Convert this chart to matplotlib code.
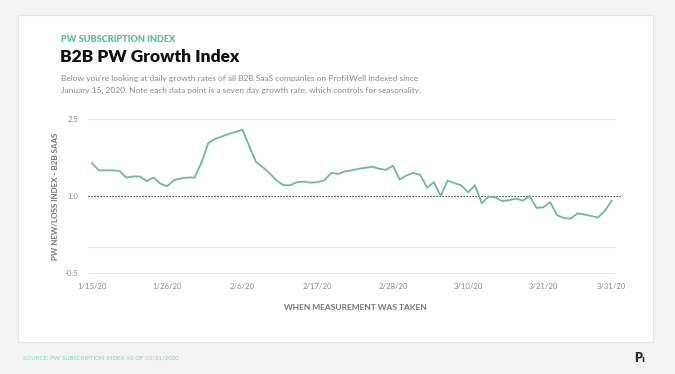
import matplotlib
matplotlib.use("Agg")
import matplotlib.pyplot as plt
from matplotlib.patches import Rectangle
import numpy as np

# ---- data ----
start_date = "2020-01-15"
values_jan = [1.64, 1.50, 1.50, 1.50, 1.49, 1.36, 1.38, 1.38, 1.29, 1.36, 1.24, 1.19,
              1.31, 1.34, 1.36, 1.36, 1.65]
values_feb = [2.03, 2.11, 2.16, 2.21, 2.25, 2.29, 1.97, 1.66, 1.56, 1.44, 1.30, 1.21,
              1.21, 1.27, 1.28, 1.26, 1.27, 1.31, 1.45, 1.43, 1.48, 1.50, 1.53, 1.55,
              1.57, 1.53, 1.51, 1.59, 1.32]
values_mar = [1.40, 1.45, 1.41, 1.16, 1.27, 1.00, 1.30, 1.25, 1.21, 1.07, 1.21, 0.86,
              0.99, 0.97, 0.90, 0.92, 0.95, 0.91, 1.00, 0.77, 0.78, 0.88, 0.63, 0.57,
              0.56, 0.66, 0.64, 0.61, 0.58, 0.71, 0.91]
x_tick_labels = ["1/15/20", "1/26/20", "2/6/20", "2/17/20", "2/28/20", "3/10/20", "3/21/20", "3/31/20"]
y_ticks = [2.5, 1.0, -0.5]
y_tick_labels = ["2.5", "1.0", "-0.5"]
grid_values = [2.5, 0.0, -0.5]
baseline = 1.0

values = values_jan + values_feb + values_mar
dates = np.arange(np.datetime64(start_date), np.datetime64(start_date) + len(values))
days = (dates - dates[0]).astype(int)
tick_dates = [np.datetime64("2020-%02d-%02d" % (int(s.split("/")[0]), int(s.split("/")[1]))) for s in x_tick_labels]
tick_pos = [(d - dates[0]).astype(int) for d in tick_dates]

W, H = 675, 374
fig = plt.figure(figsize=(W / 100, H / 100), dpi=100)
fig.patch.set_facecolor("#f1f3f5")

FONT = "Lato"
GREEN = "#5fbf9b"
LINE = "#6fb89a"
GRAY = "#8a8a8a"

def fx(px):
    return px / W

def fy(py):
    return 1 - py / H

# white card
card = Rectangle((fx(18), fy(342)), (653 - 18) / W, (342 - 15) / H, transform=fig.transFigure,
                 facecolor="white", edgecolor="#e3e5e7", linewidth=0.8, zorder=-5)
fig.patches.append(card)

fig.text(fx(61), fy(40), "PW SUBSCRIPTION INDEX", family=FONT, weight="heavy", fontsize=6.6,
         color=GREEN, va="center", ha="left")
fig.text(fx(60), fy(57.5), "B2B PW Growth Index", family=FONT, weight="heavy", fontsize=12.5,
         color="#111111", va="center", ha="left")
fig.text(fx(61), fy(79), "Below you're looking at daily growth rates of all B2B SaaS companies on ProfitWell indexed since",
         family=FONT, fontsize=6.0, color=GRAY, va="center", ha="left")
fig.text(fx(61), fy(90), "January 15, 2020. Note each data point is a seven day growth rate, which controls for seasonality.",
         family=FONT, fontsize=6.0, color=GRAY, va="center", ha="left")

# axes: x from 88 to 622 px, y from 117 to 275 px
ax_left, ax_right, ax_top, ax_bot = 88, 622, 117, 275
ax = fig.add_axes([fx(ax_left), fy(ax_bot), (ax_right - ax_left) / W, (ax_bot - ax_top) / H])
ax.set_facecolor("none")
px_per_day = (611.7 - 92) / 76
x0 = -(92 - ax_left) / px_per_day
x1 = x0 + (ax_right - ax_left) / px_per_day
ax.set_xlim(x0, x1)
ypx = (273 - 119) / 3.0
ax.set_ylim(-0.5 - (275 - 273) / ypx, 2.5 + (119 - 117) / ypx)

grid_end = 76 + (615 - 611.7) / px_per_day
for g in grid_values:
    ax.hlines(g, x0, grid_end, color="#e8e8e8", linewidth=0.8, zorder=1)
ax.hlines(baseline, x0, x1, color="#333333", linewidth=0.8, linestyles=(0, (1.2, 1.5)), zorder=2)
ax.plot(days, values, color=LINE, linewidth=1.3, zorder=3, solid_joinstyle="round")

for s in ax.spines.values():
    s.set_visible(False)
ax.set_xticks(tick_pos)
ax.set_xticklabels(x_tick_labels, family=FONT, fontsize=5.6, color=GRAY)
ax.set_yticks(y_ticks)
ax.set_yticklabels(y_tick_labels, family=FONT, fontsize=5.6, color=GRAY)
ax.tick_params(axis="x", length=0, pad=6)
ax.tick_params(axis="y", length=0, pad=7)
ax.set_ylabel("PW NEW/LOSS INDEX - B2B SAAS", family=FONT, weight="bold", fontsize=5.8, color="#777777", labelpad=4)
ax.set_xlabel("WHEN MEASUREMENT WAS TAKEN", family=FONT, weight="bold", fontsize=6.0, color="#777777", labelpad=10)

fig.text(fx(23), fy(358), "SOURCE: PW SUBSCRIPTION INDEX AS OF 03/31/2020", family=FONT, fontsize=4.4,
         color="#8fd3bb", va="center", ha="left")
fig.text(fx(634), fy(358), "P", family=FONT, weight="heavy", fontsize=9, color="#1e2a2a", va="center", ha="left")
fig.text(fx(641), fy(360), "ı", family="DejaVu Sans", weight="bold", fontsize=6, color="#1e2a2a", va="center", ha="left")

fig.savefig("out.png", dpi=100, facecolor=fig.get_facecolor())
